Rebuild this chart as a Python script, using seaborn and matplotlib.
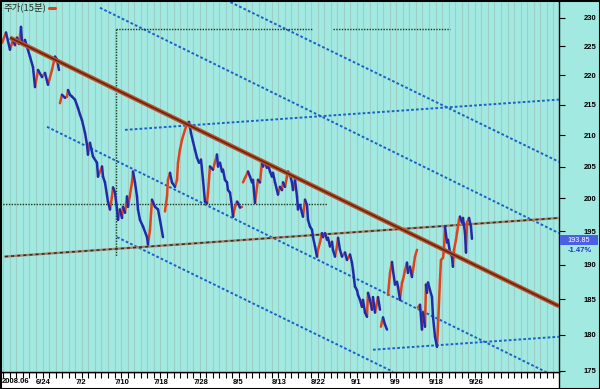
import numpy as np
import pandas as pd
import matplotlib
matplotlib.use("Agg")
import matplotlib.pyplot as plt
from matplotlib.ticker import NullLocator, NullFormatter
from matplotlib.patches import Rectangle
from matplotlib.lines import Line2D
import seaborn as sns

# ---------------- data (x = trading-day index, 6/24 = day 6) ----------------
run1 = [(0.81, 225.6), (1.42, 227.4), (2.03, 224.4), (2.49, 226.1), (2.79, 225.2), (3.10, 226.5),
        (3.40, 225.4), (3.71, 228.4), (3.86, 225.6), (4.32, 226.1), (4.63, 224.9), (5.08, 223.2),
        (5.54, 221.4), (5.85, 218.0), (6.31, 220.9), (6.92, 219.7), (7.37, 220.4), (7.83, 218.4),
        (8.44, 220.9), (8.90, 223.2), (9.21, 222.7), (9.51, 220.9)]
run2 = [(9.66, 215.3), (9.97, 216.7), (10.43, 216.2), (10.73, 216.4), (10.89, 217.5), (11.19, 216.7),
        (11.50, 216.4), (11.95, 215.9), (12.41, 214.5), (12.72, 213.4), (13.02, 212.5), (13.48, 210.4),
        (13.79, 208.5), (13.94, 206.9), (14.24, 208.8), (14.70, 206.6), (15.31, 205.6), (15.47, 203.4),
        (16.08, 205.0), (16.23, 203.4), (16.53, 202.5), (16.99, 199.5), (17.30, 198.3), (17.60, 200.3),
        (17.76, 201.7), (18.06, 200.9), (18.37, 198.3), (18.52, 196.7), (18.82, 198.3), (19.13, 197.0),
        (19.28, 198.7), (19.59, 197.8), (19.89, 200.3), (20.05, 198.7), (20.66, 202.5), (20.81, 204.2),
        (21.11, 202.5), (21.42, 200.3), (21.57, 198.3), (21.88, 196.7), (22.34, 195.7), (22.95, 194.1),
        (23.10, 193.0), (23.40, 195.2), (23.71, 199.8), (24.17, 198.7), (24.63, 198.3), (24.93, 196.7),
        (25.39, 194.1)]
run3 = [(25.69, 198.0), (26.00, 200.3), (26.15, 202.9), (26.46, 204.0), (26.76, 202.5), (27.22, 201.8),
        (27.53, 202.9), (27.68, 205.6), (27.98, 207.7), (28.29, 209.3), (28.75, 210.9), (29.05, 211.9),
        (29.36, 212.2), (29.66, 210.4), (29.97, 209.0), (30.27, 207.7), (30.58, 206.4), (30.89, 205.6),
        (31.19, 206.1), (31.50, 202.9), (31.80, 199.5), (32.11, 199.3), (32.26, 200.9), (32.56, 205.0),
        (33.02, 204.5), (33.63, 206.9), (33.79, 205.0), (34.09, 205.6), (34.40, 204.2), (34.55, 204.5),
        (34.85, 202.9), (35.16, 202.5), (35.31, 201.3), (35.62, 200.9), (35.92, 198.7), (36.08, 197.2),
        (36.38, 198.7), (36.69, 199.5), (36.84, 199.3), (37.14, 198.6), (37.45, 198.7)]
run4 = [(37.60, 202.5), (37.91, 203.2), (38.37, 204.2), (38.67, 203.4), (38.98, 202.5), (39.13, 202.9),
        (39.44, 199.3), (39.74, 201.8), (39.89, 202.9), (40.20, 202.5), (40.50, 205.6), (40.66, 205.0),
        (40.96, 205.6), (41.27, 204.8), (41.42, 205.3), (41.73, 204.2), (42.03, 203.4), (42.18, 204.0),
        (42.49, 202.5), (42.79, 201.3), (42.95, 200.6), (43.25, 201.8), (43.56, 201.3), (43.71, 202.5),
        (44.02, 201.8), (44.32, 203.4), (44.47, 204.2), (44.78, 203.7), (45.08, 202.5), (45.24, 201.3),
        (45.54, 202.9), (45.85, 200.3), (46.00, 198.3), (46.31, 199.0), (46.61, 197.8), (46.76, 197.2),
        (47.07, 199.8), (47.37, 199.0), (47.53, 196.7), (47.83, 195.7), (48.14, 195.2), (48.29, 194.1),
        (48.60, 192.7), (48.90, 191.2), (49.05, 192.2), (49.36, 193.3), (49.66, 194.7), (49.82, 194.1),
        (50.12, 194.7), (50.43, 193.7), (50.58, 194.0), (50.89, 192.7), (51.19, 193.4), (51.34, 192.2),
        (51.65, 191.2), (51.95, 192.7), (52.11, 194.0), (52.41, 192.2), (52.72, 191.2), (53.18, 191.8),
        (53.48, 190.7), (53.94, 191.5), (54.24, 190.3), (54.40, 189.2), (54.70, 186.8), (55.01, 186.3),
        (55.16, 185.6), (55.47, 184.9), (55.77, 183.9), (55.92, 184.9), (56.23, 183.1), (56.53, 182.5),
        (56.69, 185.9), (56.99, 184.9), (57.30, 183.5), (57.45, 185.3), (57.76, 183.1), (58.06, 184.5),
        (58.21, 185.3), (58.52, 183.5)]
run5 = [(58.67, 181.1), (58.82, 181.8), (58.98, 182.4), (59.28, 181.4), (59.59, 180.7)]
run6 = [(59.74, 185.6), (60.05, 188.8), (60.35, 190.4), (60.50, 189.2), (60.81, 187.1), (61.11, 187.5),
        (61.27, 186.8), (61.57, 184.9), (61.88, 187.4), (62.03, 187.8), (62.34, 189.2), (62.64, 190.3),
        (62.79, 188.8), (63.10, 189.7), (63.40, 188.2), (63.56, 189.2), (63.86, 191.2), (64.17, 192.2)]
run7 = [(64.32, 183.8), (64.63, 184.2), (64.93, 180.7), (65.08, 183.1), (65.39, 181.1), (65.54, 187.1),
        (65.69, 185.9), (65.85, 187.4), (66.15, 186.3), (66.46, 185.3), (66.61, 182.5), (66.92, 179.7),
        (67.22, 178.3), (67.37, 181.1), (67.68, 187.8), (67.83, 190.7), (68.14, 191.0), (68.29, 192.2),
        (68.44, 195.7), (68.75, 193.3), (68.90, 193.7), (69.21, 191.8), (69.51, 191.2), (69.66, 189.7),
        (69.82, 192.2), (70.12, 193.7), (70.27, 194.7), (70.58, 196.7), (70.73, 197.2), (71.04, 196.3),
        (71.19, 197.0), (71.50, 194.7), (71.65, 191.8), (71.80, 196.3), (72.11, 197.0), (72.41, 195.7),
        (72.56, 193.85)]
price_runs = [run1, run2, run3, run4, run5, run6, run7]

tick_days = [6, 12, 18, 24, 30, 36, 42, 48, 54, 60, 66, 72]
tick_labels = ["6/24", "7/2", "7/10", "7/18", "7/28", "8/5", "8/13",
               "8/22", "9/1", "9/9", "9/18", "9/26"]
year_label = "2008.06"
y_ticks = [175, 180, 185, 190, 195, 200, 205, 210, 215, 220, 225, 230]
last_price = 193.85
last_change = "-1.47%"
legend_label = "주가(15분)"

# trend / channel lines: (day0, price0, day1, price1)
main_trend = (2.03, 226.5, 85.85, 184.0)
support_line = (1.27, 191.2, 85.85, 197.0)
channel_lines = [(15.77, 231.8, 85.85, 194.7),
                 (35.01, 233.2, 85.85, 205.75),
                 (7.68, 211.4, 85.85, 174.0),
                 (18.37, 194.1, 60.50, 174.9),
                 (19.59, 210.9, 85.85, 215.9),
                 (57.45, 177.9, 85.85, 179.7)]
guide_h = [(0.5, 50.43, 199.2), (18.21, 48.29, 228.1), (51.34, 69.21, 228.1)]
guide_v = [(18.21, 228.1, 191.3)]

# ---------------- style ----------------
BG = "#a2e9e1"
GRID = "#9dcfc6"
RED = "#e0421c"
BLUE = "#1e2cab"
DOT = "#1862c8"

sns.set_theme(style="white")
plt.rcParams["font.family"] = ["Liberation Sans", "DejaVu Sans"]

fig = plt.figure(figsize=(6, 3.89), dpi=100, facecolor=BG)
ax = fig.add_axes([0, 17 / 389, 559 / 600, 372 / 389])
ax.set_facecolor(BG)
ax.set_yscale("log")

# price segments coloured by direction
rows = []
seg = 0
for run in price_runs:
    for (t0, p0), (t1, p1) in zip(run[:-1], run[1:]):
        d = "up" if p1 >= p0 else "down"
        rows.append((seg, t0, p0, d))
        rows.append((seg, t1, p1, d))
        seg += 1
df = pd.DataFrame(rows, columns=["seg", "t", "price", "dir"])

# trend lines
for t0, p0, t1, p1 in channel_lines:
    ax.plot([t0, t1], [p0, p1], color=DOT, lw=1.4, ls=(0, (1.4, 1.1)), zorder=3)
ax.plot([support_line[0], support_line[2]], [support_line[1], support_line[3]],
        color="#a08672", lw=1.7, zorder=3)
ax.plot([support_line[0], support_line[2]], [support_line[1], support_line[3]],
        color="#3a2a20", lw=1.1, ls=(0, (2, 2)), zorder=3)
for t0, t1, p in guide_h:
    ax.plot([t0, t1], [p, p], color="#1e3a1e", lw=1.0, ls=(0, (1, 1)), zorder=3)
for t, p0, p1 in guide_v:
    ax.plot([t, t], [p0, p1], color="#1e3a1e", lw=1.0, ls=(0, (1, 1)), zorder=3)

sns.lineplot(data=df, x="t", y="price", hue="dir", units="seg", estimator=None,
             palette={"up": RED, "down": BLUE}, legend=False, linewidth=1.8,
             sort=False, ax=ax, zorder=4)

ax.plot([main_trend[0], main_trend[2]], [main_trend[1], main_trend[3]],
        color="#b8552c", lw=3.2, zorder=5, solid_capstyle="butt")
ax.plot([main_trend[0], main_trend[2]], [main_trend[1], main_trend[3]],
        color="#6a2412", lw=1.2, zorder=5, solid_capstyle="butt")

ax.set_xlim(0.504, 85.85)
ax.set_ylim(174.86, 233.2)
ax.set_xlabel("")
ax.set_ylabel("")

# x axis
ax.set_xticks(tick_days)
ax.set_xticklabels(tick_labels)
ax.set_xticks(np.arange(1, 86), minor=True)
ax.grid(True, which="both", axis="x", color=GRID, lw=0.8)
ax.grid(False, axis="y")
ax.set_axisbelow(True)
ax.tick_params(axis="x", which="both", direction="out", length=4, width=0.8,
               color="black", bottom=True, pad=1.0, labelsize=5.5, labelcolor="black")
for lab in ax.get_xticklabels():
    lab.set_horizontalalignment("left")
    lab.set_fontweight("bold")

# y axis on right
ax.yaxis.tick_right()
ax.set_yticks(y_ticks)
ax.set_yticklabels([str(v) for v in y_ticks])
ax.yaxis.set_minor_locator(NullLocator())
ax.yaxis.set_minor_formatter(NullFormatter())
ax.tick_params(axis="y", which="major", direction="out", length=4, width=0.8,
               color="black", right=True, left=False, pad=14, labelsize=5.5,
               labelcolor="black")
for lab in ax.get_yticklabels():
    lab.set_fontweight("bold")

for s in ["left", "top"]:
    ax.spines[s].set_visible(False)
for s in ["right", "bottom"]:
    ax.spines[s].set_visible(True)
    ax.spines[s].set_color("black")
    ax.spines[s].set_linewidth(1.0)

# bottom white band and frame
fig.patches.append(Rectangle((0, 0), 559 / 600, 17 / 389, transform=fig.transFigure,
                             facecolor="white", edgecolor="black", lw=1, zorder=-1))
fig.patches.append(Rectangle((0, 0), 1, 1, transform=fig.transFigure, fill=False,
                             edgecolor="black", lw=2.2, zorder=10))
fig.text(2 / 600, (389 - 381.5) / 389, year_label, fontsize=5.5, fontweight="bold",
         ha="left", va="center", color="black")

# last price box
fig.patches.append(Rectangle((560 / 600, (389 - 245) / 389), 38 / 600, 10 / 389,
                             transform=fig.transFigure, facecolor="#4b5ee6",
                             edgecolor="none", zorder=6))
fig.text(579 / 600, (389 - 240) / 389, f"{last_price:.2f}", fontsize=5.3,
         color="white", ha="center", va="center", zorder=7)
fig.text(580 / 600, (389 - 251) / 389, last_change, fontsize=5.5, fontweight="bold",
         color="#1a3ac0", ha="center", va="center")

# legend
fig.text(4 / 600, 1 - 7.5 / 389, legend_label, fontsize=6.8, color="#1e2e1e",
         ha="left", va="center", family=["Noto Sans CJK KR", "DejaVu Sans"])
fig.lines.append(Line2D([49 / 600, 55 / 600], [1 - 7.5 / 389, 1 - 7.5 / 389],
                        transform=fig.transFigure, color=RED, lw=2.2))

fig.savefig("out.png", dpi=100, facecolor=BG)
